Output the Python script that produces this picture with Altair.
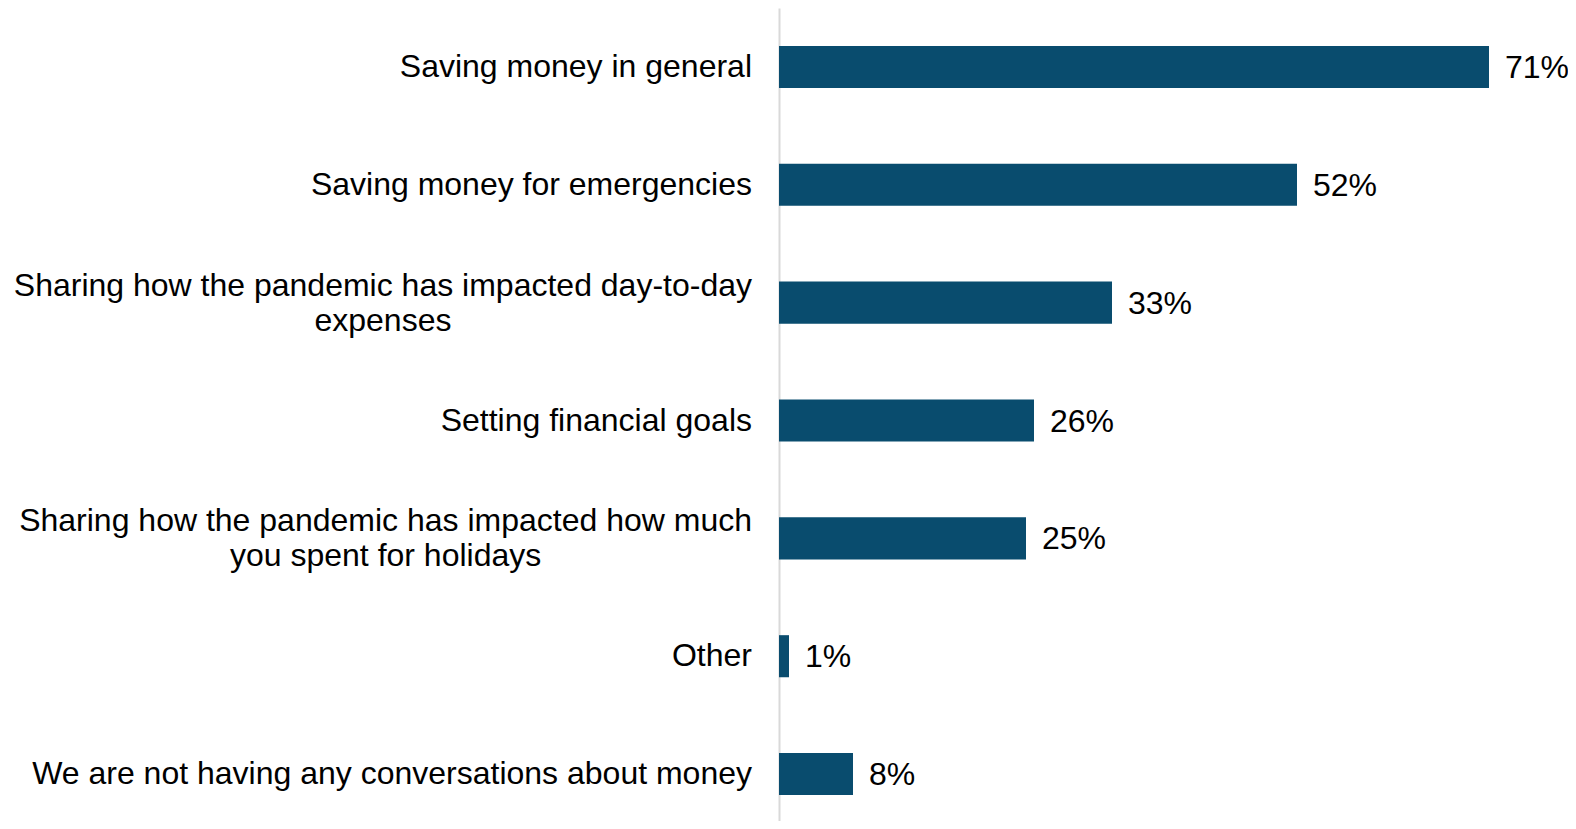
import altair as alt
import pandas as pd

# ---- data ----
categories = [
    "Saving money in general",
    "Saving money for emergencies",
    "Sharing how the pandemic has impacted day-to-day expenses",
    "Setting financial goals",
    "Sharing how the pandemic has impacted how much you spent for holidays",
    "Other",
    "We are not having any conversations about money",
]
line1 = [
    "Saving money in general",
    "Saving money for emergencies",
    "Sharing how the pandemic has impacted day-to-day",
    "Setting financial goals",
    "Sharing how the pandemic has impacted how much",
    "Other",
    "We are not having any conversations about money",
]
line2 = ["", "", "expenses", "", "you spent for holidays", "", ""]
# bar lengths; value labels as printed
values = [71, 51.8, 33.3, 25.5, 24.7, 1.0, 7.4]
value_labels = ["71%", "52%", "33%", "26%", "25%", "1%", "8%"]

# ---- style ----
FONT = "Liberation Sans"
FS = 32
BAR_COLOR = "#094C6E"
LABEL_GAP = 27

# Arial / Liberation Sans advance widths (per 1000 em), used to centre wrapped lines
W = {" ": 278, "a": 556, "b": 556, "c": 500, "d": 556, "e": 556, "f": 278, "g": 556,
     "h": 556, "i": 222, "j": 222, "k": 500, "l": 222, "m": 833, "n": 556, "o": 556,
     "p": 556, "q": 556, "r": 333, "s": 500, "t": 278, "u": 556, "v": 500, "w": 722,
     "x": 500, "y": 500, "z": 500, "-": 333, "S": 667, "O": 778, "W": 944}


def text_width(s):
    return sum(W.get(ch, 556) for ch in s) / 1000.0 * FS


df = pd.DataFrame({
    "cat": categories,
    "value": values,
    "line1": line1,
    "line2": line2,
    "lab": value_labels,
})
df["cx"] = [-LABEL_GAP - text_width(s) / 2 for s in line1]

yenc = alt.Y(
    "cat:N",
    sort=categories,
    scale=alt.Scale(paddingInner=0.643, paddingOuter=0.3215, range=[0, 825]),
    axis=alt.Axis(labels=False, ticks=False, title=None, domainColor="#d9d9d9",
                  domainWidth=2, grid=False),
)
xenc = alt.X("value:Q", scale=alt.Scale(domain=[0, 78]), axis=None)

base = alt.Chart(df)

bars = base.mark_bar(color=BAR_COLOR).encode(y=yenc, x=xenc)

vals = base.mark_text(align="left", baseline="alphabetic", dx=16, dy=11,
                      font=FONT, fontSize=FS, color="#000000").encode(
    y=yenc, x=xenc, text="lab:N")

single = base.transform_filter("datum.line2 == ''").mark_text(
    align="right", baseline="alphabetic", dy=10, font=FONT, fontSize=FS,
    color="#000000").encode(y=yenc, x=alt.value(-LABEL_GAP), text="line1:N")

first = base.transform_filter("datum.line2 != ''").mark_text(
    align="right", baseline="alphabetic", dy=-7, font=FONT, fontSize=FS,
    color="#000000").encode(y=yenc, x=alt.value(-LABEL_GAP), text="line1:N")

second = base.transform_filter("datum.line2 != ''").mark_text(
    align="center", baseline="alphabetic", dy=28, font=FONT, fontSize=FS,
    color="#000000").encode(y=yenc, x=alt.X("cx:Q", scale=None, axis=None),
                            text="line2:N")

chart = alt.layer(bars, vals, single, first, second).properties(
    width=780,
    height=813,
    background="white",
    autosize=alt.AutoSizeParams(type="none"),
    padding={"left": 771, "top": 0, "right": 9, "bottom": 0},
).configure_view(strokeWidth=0, stroke="transparent")

chart.save("out.html", embed_options={"renderer": "svg", "actions": False})
